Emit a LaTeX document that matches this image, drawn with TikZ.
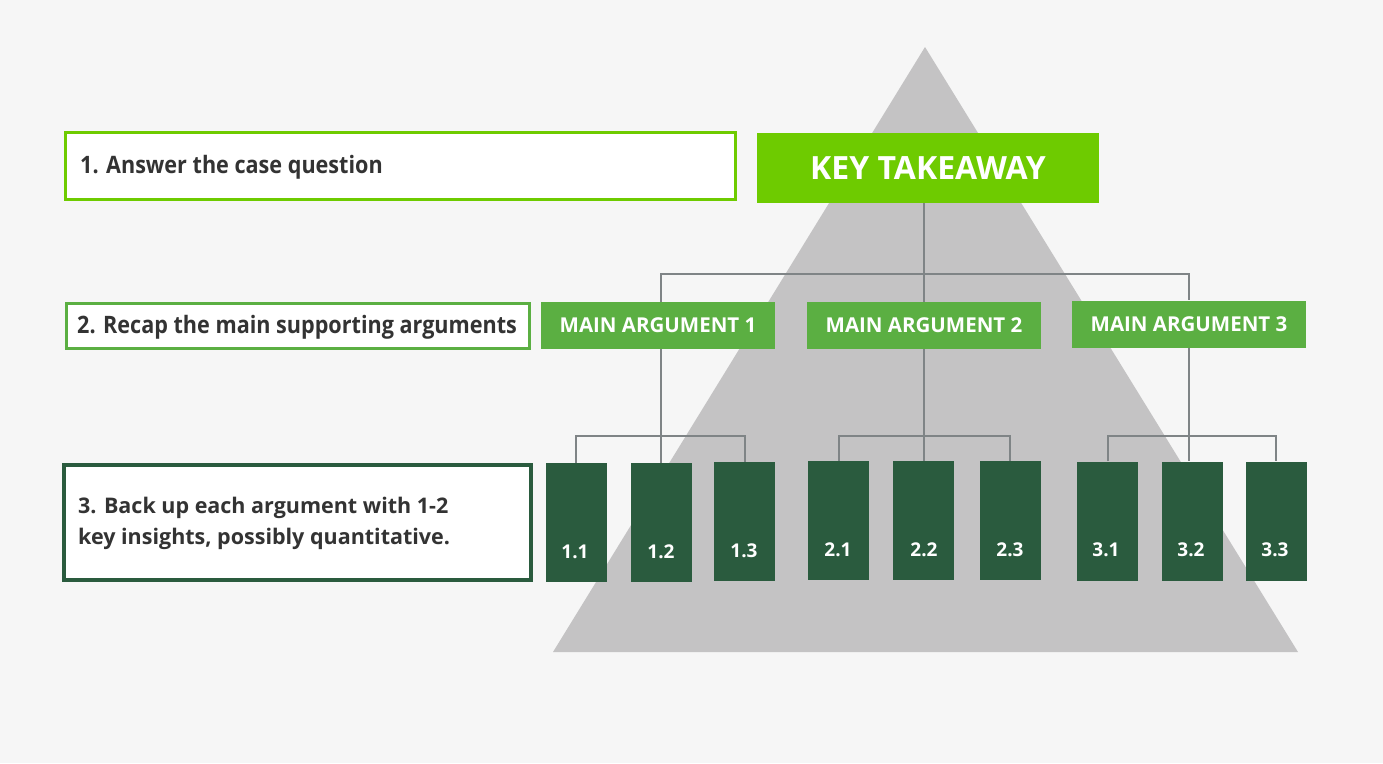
\documentclass[tikz,border=0pt]{standalone}
\usepackage{fontspec}
\setmainfont{Open Sans}
\newfontfamily\condfont{Open Sans}[FakeStretch=0.9]
\definecolor{bgc}{HTML}{F6F6F6}
\definecolor{tri}{HTML}{C4C3C4}
\definecolor{lime}{HTML}{6ECB00}
\definecolor{midg}{HTML}{5BAF42}
\definecolor{darkg}{HTML}{2A5B3E}
\definecolor{linec}{HTML}{7F8486}
\definecolor{txt}{HTML}{333333}
\tikzset{
  conn/.style={draw=linec, line width=2pt},
  ma/.style={fill=midg, minimum width=234pt, minimum height=47pt, inner sep=0pt, text=white, font=\fontsize{20.5}{24}\selectfont\bfseries},
  leaf/.style={fill=darkg, minimum width=61pt, minimum height=119pt, inner sep=0pt},
  leaftxt/.style={text=white, font=\fontsize{19}{22}\selectfont\bfseries, inner sep=0pt},
  lefttxt/.style={text=txt, anchor=west, inner sep=0pt, align=left},
}
\begin{document}
\begin{tikzpicture}[x=1pt,y=-1pt]
\useasboundingbox (0,0) rectangle (1383,763);
\fill[bgc] (0,0) rectangle (1383,763);
\fill[tri] (925,47) -- (1298,652) -- (553,652) -- cycle;

% left description boxes
\node[draw=lime, line width=3pt, fill=white, minimum width=670pt, minimum height=67pt, inner sep=0pt] (b1) at (400,165.5) {};
\node[lefttxt, font=\condfont\fontsize{24}{28}\selectfont\bfseries] (b1t) at (80,167) {1. Answer the case question};
\node[draw=midg, line width=3pt, fill=white, minimum width=463pt, minimum height=45pt, inner sep=0pt] (b2) at (297.5,325.5) {};
\node[lefttxt, font=\condfont\fontsize{24}{28}\selectfont\bfseries] (b2t) at (77,327) {2. Recap the main supporting arguments};
\node[draw=darkg, line width=4pt, fill=white, minimum width=467pt, minimum height=115pt, inner sep=0pt] (b3) at (297.5,522.5) {};
\node[lefttxt, font=\fontsize{21.5}{31}\selectfont\bfseries] (b3t) at (78,523) {3. Back up each argument with 1-2\\key insights, possibly quantitative.};

% key takeaway
\node[fill=lime, minimum width=342pt, minimum height=70pt, inner sep=0pt, text=white, font=\fontsize{32}{36}\selectfont\bfseries] (kt) at (928,168) {\raisebox{-3pt}{KEY TAKEAWAY}};

% main arguments
\node[ma] (ma1) at (658,325.5) {MAIN ARGUMENT 1};
\node[ma] (ma2) at (924,325.5) {MAIN ARGUMENT 2};
\node[ma] (ma3) at (1189,324) {MAIN ARGUMENT 3};

% leaves
\node[leaf] (l11) at (576,522.5) {};
\node[leaf] (l12) at (661,522.5) {};
\node[leaf] (l13) at (744.5,521.5) {};
\node[leaf] (l21) at (838.5,520.5) {};
\node[leaf] (l22) at (923,520.5) {};
\node[leaf] (l23) at (1010,520.5) {};
\node[leaf] (l31) at (1107.5,521) {};
\node[leaf] (l32) at (1192,521) {};
\node[leaf] (l33) at (1276,521) {};
\node[leaftxt] (t11) at (575,552) {1.1};
\node[leaftxt] (t12) at (661,552) {1.2};
\node[leaftxt] (t13) at (744,551) {1.3};
\node[leaftxt] (t21) at (838,550) {2.1};
\node[leaftxt] (t22) at (924,550) {2.2};
\node[leaftxt] (t23) at (1010,550) {2.3};
\node[leaftxt] (t31) at (1106,550) {3.1};
\node[leaftxt] (t32) at (1191,550) {3.2};
\node[leaftxt] (t33) at (1275,550) {3.3};

% connectors
\coordinate (h0) at (0,274);
\coordinate (h1) at (0,436);
\draw[conn] (ma2.north |- kt.south) -- (ma2.north);
\draw[conn] (l12.north |- ma1.north) -- (l12.north |- h0) -- (ma3.north |- h0) -- (ma3.north);

\draw[conn] (l12.north |- ma1.south) -- (l12.north);
\draw[conn] (l11.north) -- (l11.north |- h1) -- (l13.north |- h1) -- (l13.north);
\draw[conn] (ma2.south) -- (ma2.south |- l22.north);
\draw[conn] (l21.north) -- (l21.north |- h1) -- (l23.north |- h1) -- (l23.north);
\draw[conn] (ma3.south) -- (ma3.south |- l32.north);
\draw[conn] (l31.north) -- (l31.north |- h1) -- (l33.north |- h1) -- (l33.north);
\end{tikzpicture}
\end{document}
